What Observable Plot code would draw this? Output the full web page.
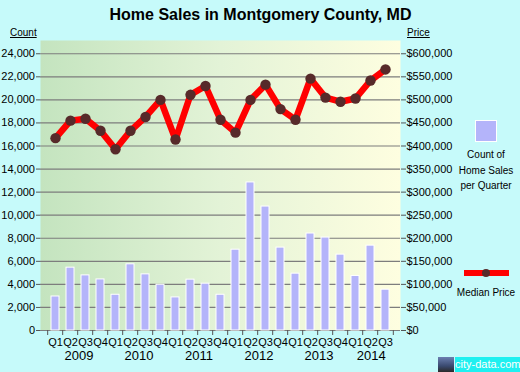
<!DOCTYPE html>
<html><head><meta charset="utf-8">
<script src="https://cdn.jsdelivr.net/npm/d3@7"></script>
<script src="https://cdn.jsdelivr.net/npm/@observablehq/plot@0.6"></script>
<style>
body{margin:0;background:#c6fafa;font-family:Arial,"Liberation Sans",sans-serif;}
#wrap{position:relative;width:520px;height:372px;overflow:hidden;background:#c6fafa;}
#wrap svg{position:absolute;left:0;top:0;}
.ov{position:absolute;color:#000;white-space:nowrap;}
#title{left:0;width:521px;top:6px;text-align:center;font-weight:bold;font-size:16px;}
.hdr{font-size:10px;text-decoration:underline;top:27px;}
#lgSq{left:475px;top:120px;width:20px;height:20px;background:#b4b4fa;border:1px solid #fff;}
#lgCount{left:456px;width:60px;top:147px;text-align:center;font-size:10px;line-height:15.5px;}
#lgLine{left:464px;top:270px;width:45px;height:6px;background:#ff0000;}
#lgDot{left:482px;top:269px;width:8px;height:8px;border-radius:50%;background:#572a2a;}
#lgMed{left:451px;width:70px;top:287px;text-align:center;font-size:10px;}
#wm{left:438px;top:357px;width:82px;height:15px;}
#wmIcon{position:absolute;left:0;top:0;width:16px;height:15px;background:linear-gradient(#6b7fb0,#3a4a70 60%,#2a2a2a);}
#wmText{position:absolute;left:17px;top:0;width:65px;height:15px;background:#1ff0f0;color:#fff;font-size:11px;line-height:15px;text-align:center;}
</style></head><body><div id="wrap"></div>
<script>
// ---- data ----
const yearLabels = ["2009", "2010", "2011", "2012", "2013", "2014"];
const quarterLabels = ["Q1","Q2","Q3","Q4","Q1","Q2","Q3","Q4","Q1","Q2","Q3","Q4",
  "Q1","Q2","Q3","Q4","Q1","Q2","Q3","Q4","Q1","Q2","Q3"];
const salesCounts = [2950, 5450, 4780, 4430, 3100, 5740, 4870, 3970, 2870, 4410, 4060, 3100,
  7010, 12840, 10750, 7190, 4930, 8410, 8060, 6580, 4730, 7360, 3540];
const medianPrices = [417000, 455000, 459000, 433000, 393000, 433000, 463000, 500000, 414000, 511000, 530000, 457000,
  429000, 500000, 533000, 480000, 457000, 546000, 505000, 496000, 503000, 542000, 566000];
const countTicks = [0, 2000, 4000, 6000, 8000, 10000, 12000, 14000, 16000, 18000, 20000, 22000, 24000];
const priceTickPrefix = "$";
const priceLabel = "Price";
const countLabel = "Count";

// ---- build table ----
const PRICE_PER_COUNT = 25; // right axis: $600,000 aligns with 24,000
let yi = -1;
const data = quarterLabels.map((q, i) => {
  if (q === "Q1") yi++;
  return {key: yearLabels[yi] + " " + q, year: yearLabels[yi], q, count: salesCounts[i], price: medianPrices[i]};
});
const keys = data.map(d => d.key);
const yearData = yearLabels.map(y => {
  const rows = data.filter(d => d.year === y);
  return {year: y, first: rows[0].key, n: rows.length};
});

const W = 520, H = 372, mL = 40, mR = 120, mT = 40, mB = 42;
const step = (W - mL - mR) / keys.length;
const fmt = d3.format(",");

const gradient = () => {
  const defs = document.createElementNS("http://www.w3.org/2000/svg", "defs");
  defs.innerHTML = `<linearGradient id="bgGrad" x1="0" x2="1" y1="0" y2="0">
    <stop offset="0" stop-color="#c4e4bf"/><stop offset="0.5" stop-color="#e3f3d7"/><stop offset="1" stop-color="#fefee0"/></linearGradient>`;
  return defs;
};

const chart = Plot.plot({
  width: W, height: H, marginLeft: mL, marginRight: mR, marginTop: mT, marginBottom: mB,
  style: {background: "transparent", fontFamily: "Arial, 'Liberation Sans', sans-serif", fontSize: "11px", color: "#000"},
  x: {type: "band", domain: keys, paddingInner: 0.49, paddingOuter: 0.245, axis: null},
  y: {domain: [0, 25150], axis: null},
  marks: [
    gradient,
    Plot.frame({fill: "url(#bgGrad)", stroke: "none"}),
    Plot.gridY(countTicks, {stroke: "#7d7d7d", strokeOpacity: 1, strokeWidth: 1.2}),
    Plot.barY(data, {x: "key", y: "count", fill: "#b4b4fa", stroke: "#ffffff", strokeWidth: 1}),
    Plot.line(data, {x: "key", y: d => d.price / PRICE_PER_COUNT, stroke: "#ff0000", strokeWidth: 6.5, strokeLinejoin: "miter"}),
    Plot.dot(data, {x: "key", y: d => d.price / PRICE_PER_COUNT, r: 5.2, fill: "#572a2a", stroke: "none"}),
    Plot.axisY(countTicks, {anchor: "left", tickSize: 4, tickPadding: 1.5, tickFormat: fmt, stroke: "#555", label: null}),
    Plot.axisY(countTicks, {anchor: "right", tickSize: 5, tickPadding: 1, tickFormat: d => priceTickPrefix + fmt(d * PRICE_PER_COUNT), stroke: "#555", label: null}),
    Plot.axisX(keys, {tickSize: 0, tickPadding: 8, tickFormat: k => k.split(" ")[1], label: null, fontSize: 11}),
    Plot.axisX(keys, {tickSize: 5, text: null, dx: -step / 2, stroke: "#555", label: null}),
    Plot.axisX([keys[keys.length - 1]], {tickSize: 5, text: null, dx: step / 2, stroke: "#555", label: null}),
    Plot.text(yearData.filter(d => d.n === 4), {x: "first", text: "year", frameAnchor: "bottom", dy: 29, dx: 1.5 * step, fontSize: 13}),
    Plot.text(yearData.filter(d => d.n === 3), {x: "first", text: "year", frameAnchor: "bottom", dy: 29, dx: 1 * step, fontSize: 13})
  ]
});

const wrap = document.getElementById("wrap");
wrap.appendChild(chart);
const add = (id, cls, html, extra) => {
  const e = document.createElement("div");
  e.id = id || ""; e.className = "ov" + (cls ? " " + cls : "");
  e.innerHTML = html || "";
  if (extra) Object.assign(e.style, extra);
  wrap.appendChild(e);
  return e;
};
add("title", "", "Home Sales in Montgomery County, MD");
add("", "hdr", countLabel, {left: "10px"});
add("", "hdr", priceLabel, {left: "407px"});
add("lgSq", "", "");
add("lgCount", "", "Count of<br>Home Sales<br>per Quarter");
add("lgLine", "", "");
add("lgDot", "", "");
add("lgMed", "", "Median Price");
const wm = add("wm", "", "");
wm.innerHTML = '<div id="wmIcon"></div><div id="wmText">city-data.com</div>';
</script>
</body></html>
